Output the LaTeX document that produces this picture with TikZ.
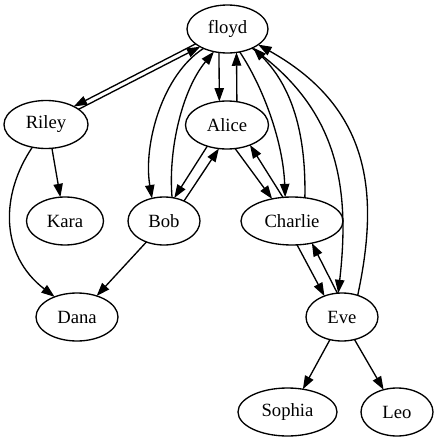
\documentclass[tikz,border=0pt]{standalone}
\usepackage{fontspec}
\setmainfont{Liberation Serif}
\usetikzlibrary{shapes.geometric,arrows.meta}
\begin{document}
\begin{tikzpicture}[x=0.75pt,y=-0.75pt,
  vert/.style={draw,ellipse,minimum height=36pt,inner sep=0pt,outer sep=0pt,font=\fontsize{14}{16}\selectfont,line width=1pt},
  edge/.style={line width=1pt,-{Triangle[length=10pt,width=7pt]}}]
\useasboundingbox (0,0) rectangle (439,443);
\node[vert,minimum width=60.75pt] (floyd) at (227.5,29) {floyd};
\node[vert,minimum width=63pt] (Riley) at (46,124.5) {Riley};
\node[vert,minimum width=62.25pt] (Alice) at (227,125) {Alice};
\node[vert,minimum width=57.75pt] (Kara) at (65,221) {Kara};
\node[vert,minimum width=54pt] (Bob) at (164,221) {Bob};
\node[vert,minimum width=76.5pt] (Charlie) at (292,221) {Charlie};
\node[vert,minimum width=61.5pt] (Dana) at (77,317) {Dana};
\node[vert,minimum width=54pt] (Eve) at (342,317) {Eve};
\node[vert,minimum width=74.25pt] (Sophia) at (287.5,412) {Sophia};
\node[vert,minimum width=54pt] (Leo) at (397,412) {Leo};
% floyd <-> Riley
\draw[edge] (floyd.205.5) -- (Riley.33.9);
\draw[edge] (Riley.25.9) -- (floyd.213.7);
% floyd <-> Alice
\draw[edge] (floyd.250.5) -- (Alice.108.4);
\draw[edge] (Alice.67.4) -- (floyd.291.6);
% floyd <-> Bob
\draw[edge] (floyd.219) .. controls (162,75) and (143,145) .. (Bob.118.6);
\draw[edge] (Bob.71.2) .. controls (168,150) and (182,90) .. (floyd.239.6);
% floyd <-> Charlie
\draw[edge] (floyd.298.5) .. controls (262,85) and (283,140) .. (Charlie.106.9);
\draw[edge] (Charlie.61) .. controls (306,140) and (295,90) .. (floyd.324.6);
% floyd <-> Eve
\draw[edge] (floyd.322.2) .. controls (340,110) and (350,190) .. (Eve.99.5);
\draw[edge] (Eve.54) .. controls (378,200) and (375,110) .. (floyd.333);
% Riley
\draw[edge] (Riley.284.3) -- (Kara.101.8);
\draw[edge] (Riley.239.2) .. controls (0,195) and (0,255) .. (Dana.138.7);
% Alice <-> Bob
\draw[edge] (Alice.227.3) -- (Bob.66);
\draw[edge] (Bob.45) -- (Alice.251.6);
% Alice <-> Charlie
\draw[edge] (Alice.289) -- (Charlie.132);
\draw[edge] (Charlie.111) -- (Alice.319);
% Charlie <-> Eve
\draw[edge] (Charlie.282) -- (Eve.130.8);
\draw[edge] (Eve.101.9) -- (Charlie.312.4);
% Bob -> Dana
\draw[edge] (Bob.230.7) -- (Dana.47.7);
% Eve -> Sophia, Leo
\draw[edge] (Eve.242.4) -- (Sophia.56.6);
\draw[edge] (Eve.299.5) -- (Leo.121.9);
\end{tikzpicture}
\end{document}
